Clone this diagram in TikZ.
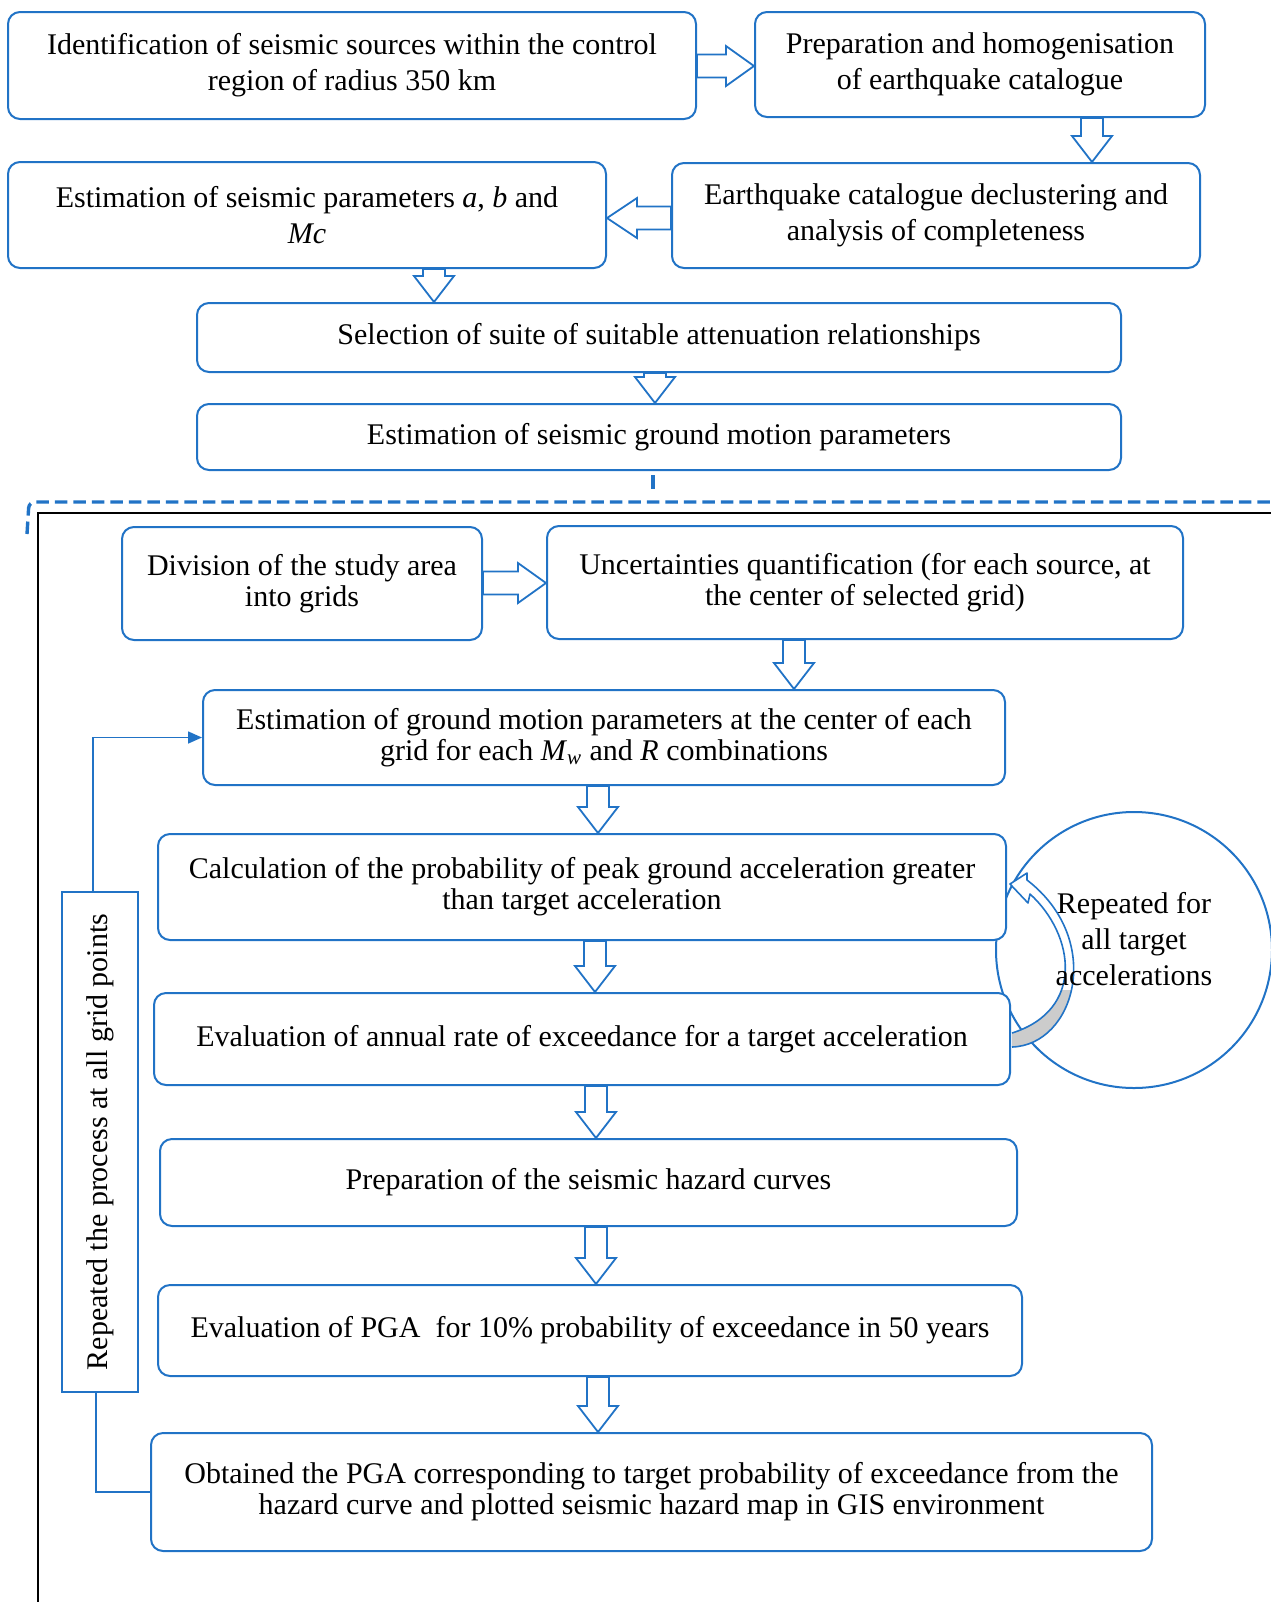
\documentclass[tikz,border=0pt]{standalone}
\usepackage{fontspec}
\setmainfont{Liberation Serif}
\usetikzlibrary{arrows.meta,calc}
\definecolor{flowblue}{RGB}{33,115,198}
\definecolor{bandgray}{RGB}{204,204,204}
\tikzset{
  stepbox/.style={draw=flowblue, line width=1pt, rounded corners=6pt, fill=white, align=center, inner sep=2pt},
  topfont/.style={font=\fontsize{15}{18}\selectfont},
  lowfont/.style={font=\fontsize{15}{15.5}\selectfont},
  blockarrow/.style={draw=flowblue, line width=0.9pt, fill=white},
  loopline/.style={draw=flowblue, line width=0.8pt},
}
\newcommand{\blockdown}[3]{%
  \draw[blockarrow] let \p0=(#1,0), \p1=(#2.south), \p2=(#3.north) in
    (\x0-5.5pt,\y1) -- (\x0-5.5pt,\y2+13pt) -- (\x0-10pt,\y2+13pt) -- (\x0,\y2)
    -- (\x0+10pt,\y2+13pt) -- (\x0+5.5pt,\y2+13pt) -- (\x0+5.5pt,\y1) -- cycle;}
\newcommand{\blockright}[3]{%
  \draw[blockarrow] let \p0=(0,#1), \p1=(#2.east), \p2=(#3.west) in
    (\x1,\y0+5.75pt) -- (\x2-14pt,\y0+5.75pt) -- (\x2-14pt,\y0+10pt) -- (\x2,\y0)
    -- (\x2-14pt,\y0-10pt) -- (\x2-14pt,\y0-5.75pt) -- (\x1,\y0-5.75pt) -- cycle;}
\newcommand{\blockleft}[3]{%
  \draw[blockarrow] let \p0=(0,#1), \p1=(#2.west), \p2=(#3.east) in
    (\x1,\y0+5.75pt) -- (\x2+15pt,\y0+5.75pt) -- (\x2+15pt,\y0+10pt) -- (\x2,\y0)
    -- (\x2+15pt,\y0-10pt) -- (\x2+15pt,\y0-5.75pt) -- (\x1,\y0-5.75pt) -- cycle;}

\begin{document}
\begin{tikzpicture}[x=0.5pt, y=-0.5pt]
    \useasboundingbox (0,0) rectangle (1270,1602);
    \draw [flowblue, line width=1.7pt, dash pattern=on 6.25pt off 3pt, rounded corners=3pt] (27,534) -- (29,502) -- (1280,502);
    \draw [black, line width=1pt] (38,1610) -- (38,513) -- (1280,513);
    \path (1134, 950) node [circle, draw=flowblue, line width=1pt, minimum size=138pt, inner sep=0pt] (loopcircle) {};

    \path ( 352,  65.5) node [stepbox, topfont, minimum width=344pt, minimum height=53.5pt] (sources) {Identification of seismic sources within the control\\region of radius 350 km};
    \path ( 980,  64.5) node [stepbox, topfont, minimum width=225pt, minimum height=52.5pt] (catalogue) {Preparation and homogenisation\\of earthquake catalogue};
    \path ( 307, 215  ) node [stepbox, topfont, minimum width=299pt, minimum height=53pt] (params) {Estimation of seismic parameters \textit{a}, \textit{b} and\\\textit{Mc}};
    \path ( 936, 215.5) node [stepbox, topfont, minimum width=264pt, minimum height=52.5pt] (decluster) {Earthquake catalogue declustering and\\analysis of completeness};
    \path ( 659, 337.5) node [stepbox, topfont, minimum width=462pt, minimum height=34.5pt] (attenuation) {Selection of suite of suitable attenuation relationships};
    \path ( 659, 437  ) node [stepbox, topfont, minimum width=462pt, minimum height=33pt] (groundmotion) {Estimation of seismic ground motion parameters};

    \path ( 302, 583.5) node [stepbox, lowfont, minimum width=180pt, minimum height=56.5pt] (grids) {Division of the study area\\into grids};
    \path ( 865, 582.5) node [stepbox, lowfont, minimum width=318pt, minimum height=56.5pt] (uncertainty) {Uncertainties quantification (for each source, at\\the center of selected grid)};
    \path ( 604, 737.5) node [stepbox, lowfont, minimum width=401pt, minimum height=47.5pt] (gridmotion) {Estimation of ground motion parameters at the center of each\\grid for each \textit{M}\textsubscript{\textit{w}} and \textit{R} combinations};
    \path ( 582, 887  ) node [stepbox, lowfont, minimum width=424pt, minimum height=53pt] (probability) {Calculation of the probability of peak ground acceleration greater\\than target acceleration};
    \path ( 582,1039  ) node [stepbox, lowfont, minimum width=428pt, minimum height=46pt] (annualrate) {Evaluation of annual rate of exceedance for a target acceleration};
    \path ( 588.5,1182.5) node [stepbox, lowfont, minimum width=428.5pt, minimum height=43.5pt] (hazardcurves) {Preparation of the seismic hazard curves};
    \path ( 590,1330.5) node [stepbox, lowfont, minimum width=432pt, minimum height=45.5pt] (pga) {Evaluation of PGA\ \ for 10\% probability of exceedance in 50 years};
    \path ( 651.5,1492) node [stepbox, lowfont, minimum width=500.5pt, minimum height=59pt] (hazardmap) {Obtained the PGA corresponding to target probability of exceedance from the\\hazard curve and plotted seismic hazard map in GIS environment};
    \path ( 100,1142  ) node [draw=flowblue, line width=1pt, fill=white, lowfont, rotate=90, minimum width=250pt, minimum height=38pt] (allgrids) {Repeated the process at all grid points};

    \blockright{66}{sources}{catalogue}
    \blockdown{1092}{catalogue}{decluster}
    \blockleft{218}{decluster}{params}
    \blockdown{434}{params}{attenuation}
    \blockdown{655}{attenuation}{groundmotion}
    \draw [flowblue, line width=1.6pt] ([xshift=-3pt,yshift=-2pt]groundmotion.south) -- ++(0,14);
    \blockright{583}{grids}{uncertainty}
    \blockdown{794}{uncertainty}{gridmotion}
    \blockdown{598}{gridmotion}{probability}
    \blockdown{595}{probability}{annualrate}
    \blockdown{596}{annualrate}{hazardcurves}
    \blockdown{596}{hazardcurves}{pga}
    \blockdown{598}{pga}{hazardmap}

    \draw [loopline, -{Triangle[length=7pt, width=6pt]}] ([xshift=-3.5pt]allgrids.east) |- (gridmotion.west);
    \draw [loopline] ([xshift=-2pt]allgrids.west) |- (hazardmap.west);

    \path [fill=white] (1012,1047) .. controls (1075,1045) and (1105,940) .. (1027,880) -- (1027,873) -- (1010,884) -- (1028,903) -- (1030,894) .. controls (1075,935) and (1085,1010) .. (1012,1033) -- cycle;
    \begin{scope}
        \clip (1000,990) rectangle (1110,1060);
        \path [fill=bandgray] (1012,1047) .. controls (1075,1045) and (1105,940) .. (1027,880) -- (1030,894) .. controls (1075,935) and (1085,1010) .. (1012,1033) -- cycle;
    \end{scope}
    \draw [flowblue, line width=0.8pt, line join=round] (1012,1047) .. controls (1075,1045) and (1105,940) .. (1027,880) -- (1027,873) -- (1010,884) -- (1028,903) -- (1030,894) .. controls (1075,935) and (1085,1010) .. (1012,1033);
    \path (1134, 939) node [align=center, font=\fontsize{15}{18}\selectfont] (repeatlabel) {Repeated for\\all target\\accelerations};
\end{tikzpicture}
\end{document}
